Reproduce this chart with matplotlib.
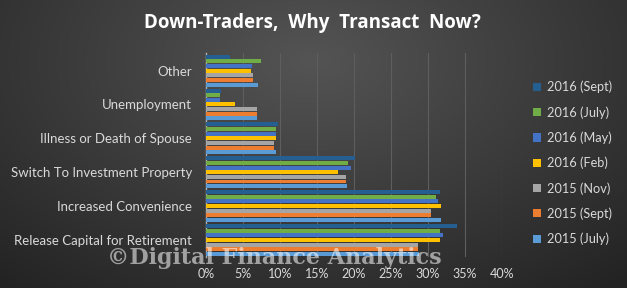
import numpy as np
import matplotlib
matplotlib.use("Agg")
import matplotlib.pyplot as plt
from matplotlib.patches import Patch
from matplotlib.ticker import PercentFormatter

# categories, bottom to top as matplotlib draws them
categories = ["Release Capital for Retirement", "Increased Convenience",
              "Switch To Investment Property", "Illness or Death of Spouse",
              "Unemployment", "Other"]

series_names = ["2016 (Sept)", "2016 (July)", "2016 (May)", "2016 (Feb)",
                "2015 (Nov)", "2015 (Sept)", "2015 (July)"]
series_colors = ["#255e91", "#70ad47", "#4472c4", "#ffc000",
                 "#a5a5a5", "#ed7d31", "#5b9bd5"]

# values in %, one list per survey wave, same order as categories
sept_2016 = [33.9, 31.6, 20.1, 9.8, 2.0, 3.2]
july_2016 = [31.6, 31.1, 19.2, 9.4, 1.9, 7.5]
may_2016 = [32.1, 31.4, 19.6, 9.4, 1.9, 6.2]
feb_2016 = [31.6, 31.8, 17.8, 9.5, 3.9, 6.1]
nov_2015 = [28.7, 30.4, 18.9, 9.2, 6.9, 6.4]
sept_2015 = [28.7, 30.4, 18.9, 9.2, 6.9, 6.4]
july_2015 = [28.8, 31.8, 19.1, 9.4, 6.9, 7.0]

all_series = [sept_2016, july_2016, may_2016, feb_2016, nov_2015, sept_2015, july_2015]

plt.rcParams['font.family'] = ['Lato', 'DejaVu Sans']
txt_color = "#d9d9d9"

fig = plt.figure(figsize=(6.27, 2.88), dpi=100)

# dark background with a lighter patch near the top centre
bg = fig.add_axes([0, 0, 1, 1], zorder=-10)
yy, xx = np.mgrid[0:288, 0:627]
dist = np.sqrt(((xx - 310) / 420.0) ** 2 + ((yy - 60) / 260.0) ** 2)
shade = np.clip(0.33 - 0.17 * dist, 0.14, 0.33)
bg.imshow(np.dstack([shade, shade, shade]), aspect="auto", extent=[0, 1, 0, 1])
bg.axis("off")

ax = fig.add_axes([0.3285, 0.108, 0.472, 0.708])
ax.set_facecolor("none")

y = np.arange(len(categories))
step = 0.137
bar_h = 0.118
for i, (vals, name, col) in enumerate(zip(all_series, series_names, series_colors)):
    ax.barh(y + (3 - i) * step, vals, height=bar_h, color=col, label=name, zorder=3)

ax.set_xlim(0, 40)
ax.set_ylim(-0.5, len(categories) - 0.48)
ax.set_xticks(np.arange(0, 41, 5))
ax.xaxis.set_major_formatter(PercentFormatter(decimals=0))
ax.set_yticks(y)
ax.set_yticklabels(categories)
ax.tick_params(axis="both", length=0, colors=txt_color, labelsize=9.5)
ax.tick_params(axis="x", labelsize=9)
ax.tick_params(axis="y", pad=10)
ax.tick_params(axis="x", pad=8)
ax.grid(axis="x", color="#5e5e5e", linewidth=0.8, zorder=0)
for side in ["top", "right", "bottom"]:
    ax.spines[side].set_visible(False)
ax.spines["left"].set_color("#b0b0b0")
ax.spines["left"].set_linewidth(1.0)

handles = [Patch(facecolor=c, label=n) for n, c in zip(series_names, series_colors)]
leg = fig.legend(handles=handles, loc="center left", bbox_to_anchor=(0.832, 0.434),
                 frameon=False, fontsize=9.2, handlelength=0.6, handleheight=0.6,
                 handletextpad=0.5, labelspacing=1.0)
for t in leg.get_texts():
    t.set_color(txt_color)

fig.text(0.498, 0.92, "Down-Traders,  Why  Transact  Now?", ha="center", va="center",
         fontsize=13.5, fontweight="bold", color="white", family=["Open Sans", "DejaVu Sans"])

fig.text(0.437, 0.103, "\u00a9Digital Finance Analytics", ha="center", va="center",
         fontsize=16, fontweight="bold", color="white", alpha=0.55,
         family=["DejaVu Serif"], zorder=10)

fig.savefig("out.png", dpi=100)
